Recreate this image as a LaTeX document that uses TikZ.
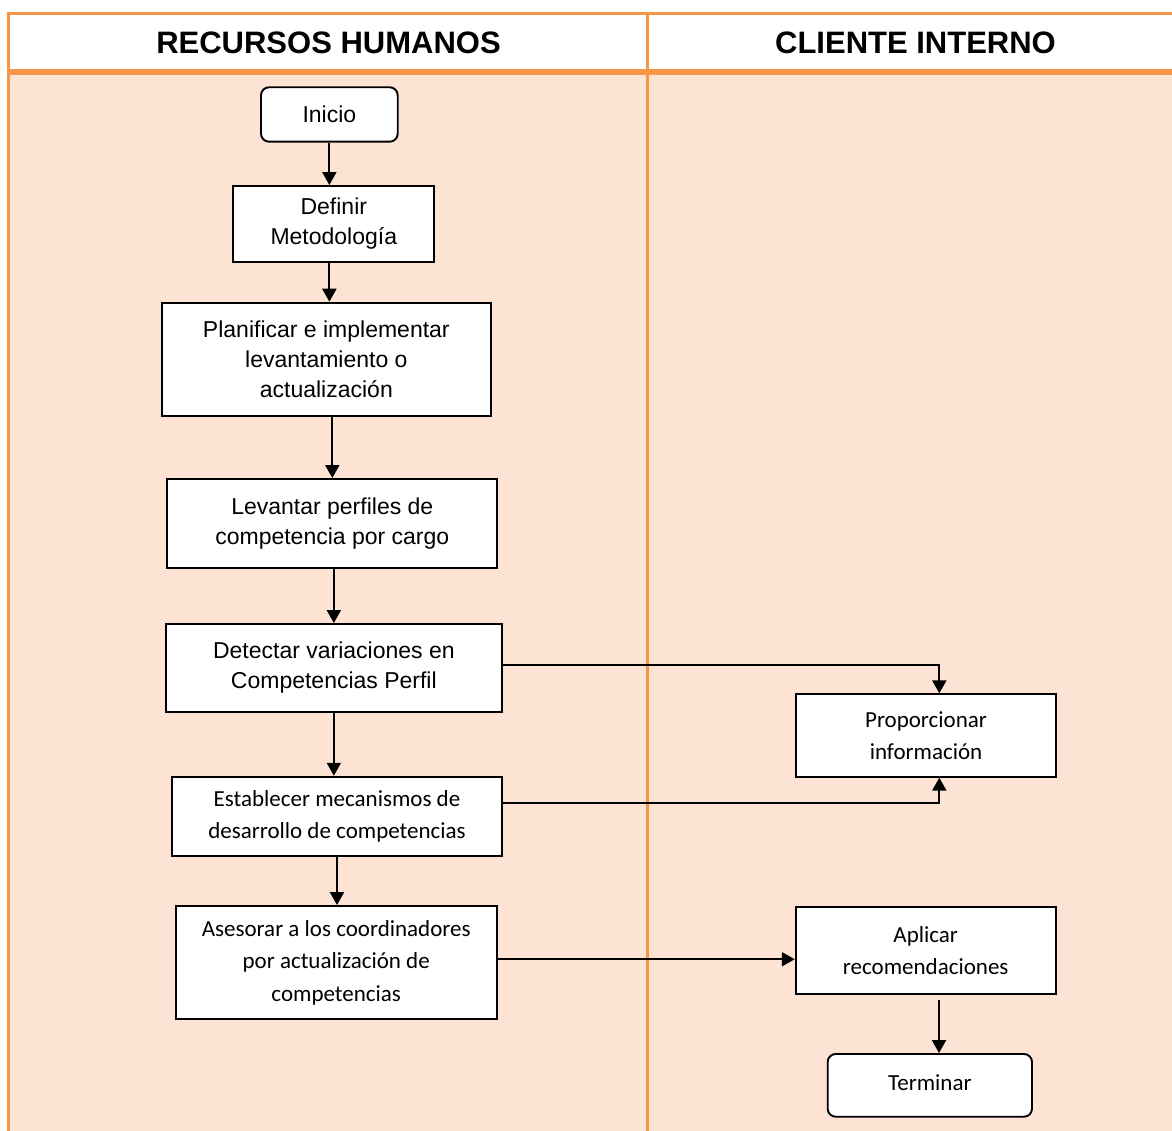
\documentclass[tikz,border=0pt]{standalone}
\usepackage{fontspec}
\setmainfont{Liberation Sans}
\newfontfamily\calfont{Carlito}
\usetikzlibrary{arrows.meta,calc}
\definecolor{laneorange}{RGB}{247,150,70}
\definecolor{lanefill}{RGB}{252,227,211}

\tikzset{
  proc/.style={draw=black, fill=white, line width=1.9pt, inner sep=0pt,
    align=center, font=\fontsize{23}{30}\selectfont},
  procc/.style={proc, font=\calfont\fontsize{23}{32.5}\selectfont},
  term/.style={proc, rounded corners=8pt},
  termc/.style={procc, rounded corners=8pt},
  arr/.style={line width=2pt, -{Triangle[width=14pt,length=13pt]}},
  laneline/.style={draw=laneorange, line width=3pt},
  lanetitle/.style={font=\fontsize{31}{36}\selectfont\bfseries}
}

\begin{document}
\begin{tikzpicture}[x=1pt, y=-1pt]
  \useasboundingbox (0,0) rectangle (1172,1131);

  % swimlane frame
  \fill[lanefill] (8.7,72) rectangle (1190,1140);
  \draw[laneline] (8.7,13.8) -- (1190,13.8);
  \draw[laneline] (8.7,12.3) -- (8.7,1140);
  \draw[laneline] (647.3,13.8) -- (647.3,1140);
  \draw[draw=laneorange, line width=5.5pt] (8.7,72) -- (1190,72);

  \node[lanetitle] (hrh) at (328.5,42.5) {RECURSOS HUMANOS};
  \node[lanetitle] (hci) at (915.5,42.5) {CLIENTE INTERNO};

  % human resources lane
  \node[term, minimum width=136.7pt, minimum height=54.4pt] (ini) at (329.35,114.5) {Inicio};
  \node[proc, minimum width=201pt, minimum height=76pt] (def) at (333.8,224) {Definir\\Metodología};
  \node[proc, minimum width=329.3pt, minimum height=113pt] (plan) at (326.35,359.2) {Planificar e implementar\\levantamiento o\\actualización};
  \node[proc, minimum width=330pt, minimum height=89.3pt] (lev) at (332.3,523.65) {Levantar perfiles de\\competencia por cargo};
  \node[proc, minimum width=335.7pt, minimum height=87.7pt] (det) at (333.85,667.85) {Detectar variaciones en\\Competencias Perfil};
  \node[procc, minimum width=329.4pt, minimum height=79.3pt] (est) at (337,816.35) {Establecer mecanismos de\\desarrollo de competencias};
  \node[procc, minimum width=321pt, minimum height=113.3pt] (ase) at (336.2,962.65) {Asesorar a los coordinadores\\por actualización de\\competencias};

  % internal client lane
  \node[procc, minimum width=259.4pt, minimum height=82.4pt] (prop) at (926,735.5) {Proporcionar\\información};
  \node[procc, minimum width=260pt, minimum height=87.3pt] (apl) at (925.7,950.35) {Aplicar\\recomendaciones};
  \node[termc, minimum width=204.3pt, minimum height=62.7pt] (fin) at (929.85,1085.35) {\raisebox{5pt}{Terminar}};

  % flow
  \draw[arr] (ini.south) -- (ini.south |- def.north);
  \draw[arr] (def.south -| ini.south) -- (ini.south |- plan.north);
  \draw[arr] (plan.south -| lev.north) -- (lev.north);
  \draw[arr] (lev.south -| det.north) -- (det.north);
  \draw[arr] (det.south) -- (det.south |- est.north);
  \draw[arr] (est.south) -- (est.south |- ase.north);
  \draw[arr] ([yshift=2.5pt]det.east) -| ([xshift=13.3pt]prop.north);
  \draw[arr] ([yshift=13pt]est.east) -| ([xshift=13.3pt]prop.south);
  \draw[arr] ([yshift=3.4pt]ase.east) -- ([yshift=3.4pt]ase.east -| apl.west);
  \draw[arr, shorten <=5pt] ([xshift=13.3pt]apl.south) -- ([xshift=13.3pt]apl.south |- fin.north);
\end{tikzpicture}
\end{document}
